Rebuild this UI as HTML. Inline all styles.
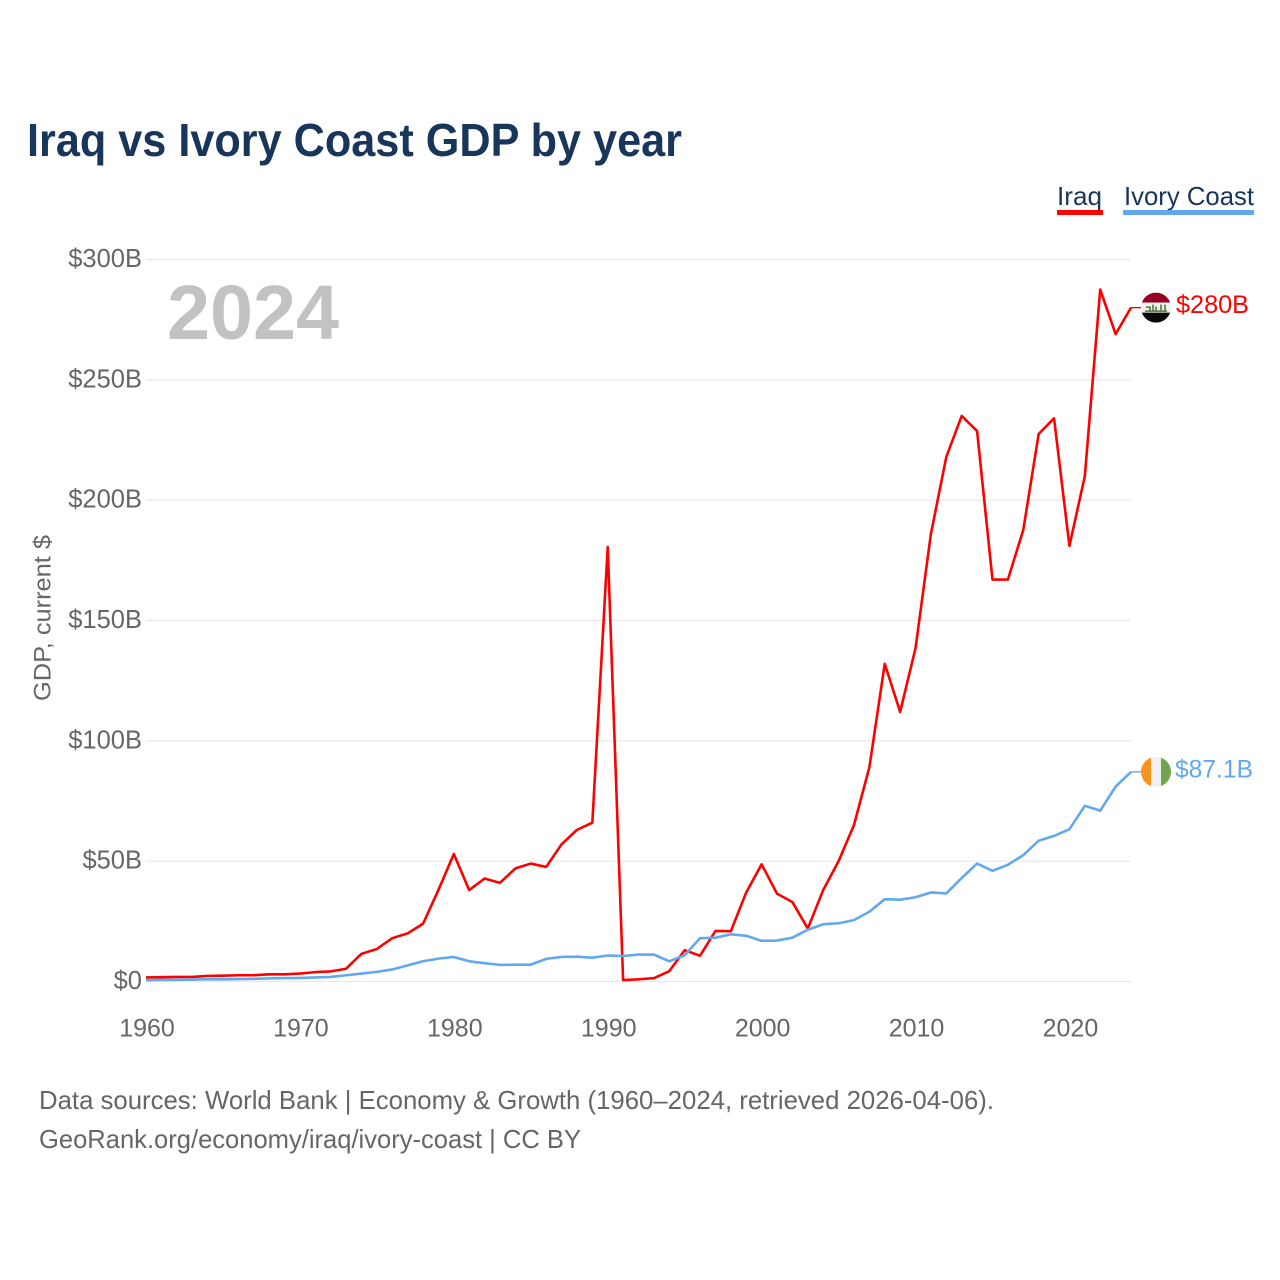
<!DOCTYPE html>
<html lang="en">
<head>
<meta charset="utf-8">
<title>Iraq vs Ivory Coast GDP by year</title>
<style>
html,body{margin:0;padding:0;background:#fff;}
svg{display:block;}
text{font-family:"Liberation Sans",sans-serif;}
</style>
</head>
<body>
<svg id="chart" xmlns="http://www.w3.org/2000/svg" width="1280" height="1280" viewBox="0 0 1280 1280">
  <rect width="1280" height="1280" fill="#ffffff"/>
  <text x="27" y="156" font-size="46" font-weight="700" fill="#18355a" textLength="655" lengthAdjust="spacingAndGlyphs">Iraq vs Ivory Coast GDP by year</text>

  <g id="grid"></g>
  <g id="yticks"></g>
  <g id="xticks"></g>

  <text transform="translate(50.5,618) rotate(-90)" text-anchor="middle" font-size="24" fill="#666666" textLength="166" lengthAdjust="spacingAndGlyphs">GDP, current $</text>
  <text x="167" y="339" font-size="77" font-weight="700" fill="#c2c2c2" textLength="172" lengthAdjust="spacingAndGlyphs">2024</text>

  <g id="series"></g>

  <g id="iraq-marker">
    <defs>
      <clipPath id="iraq-clip"><circle cx="0" cy="0" r="15"/></clipPath>
      <clipPath id="ci-clip"><circle cx="0" cy="0" r="15"/></clipPath>
    </defs>
    <line id="iraq-connector" stroke="#ff0000" stroke-width="1.4"/>
    <g id="iraq-flag">
      <g clip-path="url(#iraq-clip)">
        <rect x="-15" y="-15" width="30" height="10" fill="#950024"/>
        <rect x="-15" y="-5" width="30" height="10" fill="#f1f1f1"/>
        <rect x="-15" y="5" width="30" height="10" fill="#0a0a0a"/>
        <path d="M-11 3.5H11M-10 -0.5H-6V3.5M-3 -3V3.5M0 -1V3.5M5 -3V3.5M9 -3V3.5" fill="none" stroke="#4f7a3c" stroke-width="1.6"/>
      </g>
    </g>
    <text id="iraq-value" font-size="25" fill="#ff0000" textLength="73" lengthAdjust="spacingAndGlyphs"></text>
  </g>

  <g id="ci-marker">
    <line id="ci-connector" stroke="#62a8ee" stroke-width="1.4"/>
    <g id="ci-flag">
      <g clip-path="url(#ci-clip)">
        <rect x="-15" y="-15" width="10" height="30" fill="#f7941d"/>
        <rect x="-5" y="-15" width="10" height="30" fill="#f0f0f0"/>
        <rect x="5" y="-15" width="10" height="30" fill="#6fa54c"/>
      </g>
    </g>
    <text id="ci-value" font-size="25" fill="#62a8ee" textLength="78" lengthAdjust="spacingAndGlyphs"></text>
  </g>

  <g>
    <g>
      <text x="1057" y="205" font-size="26" fill="#18355a" textLength="45" lengthAdjust="spacingAndGlyphs">Iraq</text>
      <rect x="1057" y="210" width="46" height="5" fill="#ff0000"/>
    </g>
    <g>
      <text x="1124" y="205" font-size="26" fill="#18355a" textLength="130" lengthAdjust="spacingAndGlyphs">Ivory Coast</text>
      <rect x="1123" y="210" width="131" height="5" fill="#62a8ee"/>
    </g>
  </g>

  <text x="39" y="1109" font-size="26" fill="#666666" textLength="955" lengthAdjust="spacingAndGlyphs">Data sources: World Bank | Economy &amp; Growth (1960–2024, retrieved 2026-04-06).</text>
  <text x="39" y="1148" font-size="26" fill="#666666" textLength="542" lengthAdjust="spacingAndGlyphs">GeoRank.org/economy/iraq/ivory-coast | CC BY</text>
</svg>
<script>
const startYear = 1960;
const endYear = 2024;
const yTickValues = [0, 50, 100, 150, 200, 250, 300];
const yTickLabels = ["$0", "$50B", "$100B", "$150B", "$200B", "$250B", "$300B"];
const xTickValues = [1960, 1970, 1980, 1990, 2000, 2010, 2020];
const xTickLabels = ["1960", "1970", "1980", "1990", "2000", "2010", "2020"];
const iraqGdp = [1.7,1.8,1.9,1.9,2.3,2.4,2.6,2.6,3.0,3.0,3.3,3.9,4.2,5.3,11.5,13.5,18,20,24,38,53,38,42.8,41,47,49,47.6,57,63,66,180.5,0.6,0.9,1.4,4.3,13,10.7,21,20.9,37,48.7,36.5,33,22,38,50,65,89,132,112,138.5,186,218,235,228.7,167,167,187.6,227.5,234,181,210,287.5,269,280];
const ivoryCoastGdp = [0.6,0.7,0.7,0.8,0.9,0.9,1.0,1.1,1.3,1.4,1.5,1.7,1.9,2.6,3.3,4,5,6.7,8.4,9.5,10.2,8.4,7.6,6.9,7,7,9.4,10.2,10.3,9.9,10.8,10.6,11.2,11.2,8.4,10.9,18,18.2,19.6,19,16.9,17,18.2,21.5,23.8,24.2,25.5,29,34.2,34,35,37,36.6,43,49,46,48.5,52.5,58.5,60.5,63.3,73,71,81,87.1];
const iraqEndLabel = "$280B";
const ivoryCoastEndLabel = "$87.1B";

const NS = "http://www.w3.org/2000/svg";
const plotLeft = 146, plotRight = 1131, plotBottom = 981.5, plotTop = 259.5;
function xScale(year) {
  return plotLeft + (year - startYear) / (endYear - startYear) * (plotRight - plotLeft);
}
function yScale(value) {
  return plotBottom - value / 300 * (plotBottom - plotTop);
}

const grid = document.getElementById("grid");
const yticks = document.getElementById("yticks");
const xticks = document.getElementById("xticks");
const seriesGroup = document.getElementById("series");

yTickValues.forEach(function (v, i) {
  const line = document.createElementNS(NS, "line");
  
  
  line.setAttribute("x1", plotLeft);
  line.setAttribute("x2", plotRight);
  line.setAttribute("y1", yScale(v));
  line.setAttribute("y2", yScale(v));
  line.setAttribute("stroke", "#e9e9e9");
  line.setAttribute("stroke-width", "1.2");
  grid.appendChild(line);

  const label = document.createElementNS(NS, "text");
  
  
  label.setAttribute("x", 142);
  label.setAttribute("y", yScale(v) + 7.5);
  label.setAttribute("text-anchor", "end");
  label.setAttribute("font-size", "25.5");
  label.setAttribute("fill", "#666666");
  label.textContent = yTickLabels[i];
  yticks.appendChild(label);
});

xTickValues.forEach(function (v, i) {
  const label = document.createElementNS(NS, "text");
  
  
  label.setAttribute("x", xScale(v) + 1);
  label.setAttribute("y", 1036.5);
  label.setAttribute("text-anchor", "middle");
  label.setAttribute("font-size", "25");
  label.setAttribute("fill", "#666666");
  label.textContent = xTickLabels[i];
  xticks.appendChild(label);
});

function linePoints(values) {
  return values.map(function (v, i) {
    return xScale(startYear + i).toFixed(2) + "," + yScale(v).toFixed(2);
  }).join(" ");
}

const iraqLine = document.createElementNS(NS, "polyline");


iraqLine.setAttribute("points", linePoints(iraqGdp));
iraqLine.setAttribute("fill", "none");
iraqLine.setAttribute("stroke", "#ff0000");
iraqLine.setAttribute("stroke-width", "2.6");
iraqLine.setAttribute("stroke-linejoin", "round");
seriesGroup.appendChild(iraqLine);

const ivoryLine = document.createElementNS(NS, "polyline");


ivoryLine.setAttribute("points", linePoints(ivoryCoastGdp));
ivoryLine.setAttribute("fill", "none");
ivoryLine.setAttribute("stroke", "#62a8ee");
ivoryLine.setAttribute("stroke-width", "2.6");
ivoryLine.setAttribute("stroke-linejoin", "round");
seriesGroup.appendChild(ivoryLine);

function placeMarker(prefix, lastValue, text, labelX, labelDy) {
  const y = yScale(lastValue);
  const connector = document.getElementById(prefix + "-connector");
  connector.setAttribute("x1", plotRight);
  connector.setAttribute("x2", plotRight + 10);
  connector.setAttribute("y1", y);
  connector.setAttribute("y2", y);
  document.getElementById(prefix + "-flag").setAttribute("transform", "translate(" + (plotRight + 25) + "," + y + ")");
  const label = document.getElementById(prefix + "-value");
  label.setAttribute("x", labelX);
  label.setAttribute("y", y + labelDy);
  label.textContent = text;
}
placeMarker("iraq", iraqGdp[iraqGdp.length - 1], iraqEndLabel, 1176, 5.5);
placeMarker("ci", ivoryCoastGdp[ivoryCoastGdp.length - 1], ivoryCoastEndLabel, 1175, 5.5);
</script>
</body>
</html>
